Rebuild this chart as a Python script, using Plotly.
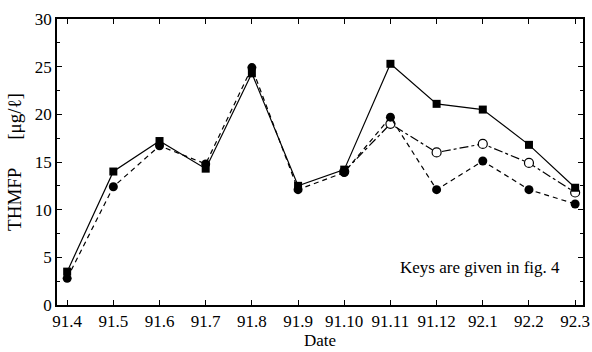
import plotly.graph_objects as go

dates = ["91.4", "91.5", "91.6", "91.7", "91.8", "91.9", "91.10", "91.11",
         "91.12", "92.1", "92.2", "92.3"]
series_square = [3.5, 14.0, 17.2, 14.3, 24.3, 12.5, 14.2, 25.3, 21.1, 20.5, 16.8, 12.3]
series_filled_circle = [2.8, 12.4, 16.7, 14.8, 24.9, 12.1, 13.9, 19.7, 12.1, 15.1, 12.1, 10.6]
dates_open = ["91.10", "91.11", "91.12", "92.1", "92.2", "92.3"]
series_open_circle = [14.0, 19.0, 16.0, 16.9, 14.9, 11.8]

font = "Liberation Serif, Times New Roman, serif"

fig = go.Figure()
fig.add_trace(go.Scatter(
    x=dates_open, y=series_open_circle, mode="lines+markers",
    line=dict(color="black", width=1.2, dash="dashdot"),
    marker=dict(symbol="circle", size=9, color="white", line=dict(color="black", width=1.2)),
))
fig.add_trace(go.Scatter(
    x=dates, y=series_filled_circle, mode="lines+markers",
    line=dict(color="black", width=1.2, dash="5px,4px"),
    marker=dict(symbol="circle", size=9, color="black"),
))
fig.add_trace(go.Scatter(
    x=dates, y=series_square, mode="lines+markers",
    line=dict(color="black", width=1.2),
    marker=dict(symbol="square", size=8, color="black"),
))

fig.update_layout(
    width=592, height=352,
    margin=dict(l=57, r=9, t=19, b=47),
    paper_bgcolor="white", plot_bgcolor="white",
    showlegend=False,
    font=dict(family=font, size=17, color="black"),
)
fig.update_xaxes(
    type="category", categoryorder="array", categoryarray=dates,
    range=[-0.22, 11.17], automargin=False,
    showgrid=False, zeroline=False,
    showline=True, linecolor="black", linewidth=1.5, mirror="allticks",
    ticks="inside", ticklen=5, tickcolor="black",
    tickfont=dict(family=font, size=17),
    title=dict(text="Date", font=dict(family=font, size=17), standoff=4),
)
fig.update_yaxes(
    range=[0, 30], tickvals=[0, 5, 10, 15, 20, 25, 30], automargin=False,
    showgrid=False, zeroline=False,
    showline=True, linecolor="black", linewidth=1.5, mirror="allticks",
    ticks="inside", ticklen=5, tickcolor="black",
    minor=dict(dtick=2.5, tick0=0, ticks="inside", ticklen=3, tickcolor="black", showgrid=False),
    tickfont=dict(family=font, size=17),
    title=dict(text="THMFP　  [μg/ℓ]", font=dict(family=font, size=19), standoff=8),
)
fig.add_annotation(
    text="Keys are given in fig. 4", xref="paper", yref="paper",
    x=0.96, y=0.13, xanchor="right", yanchor="middle", showarrow=False,
    font=dict(family=font, size=17, color="black"),
)
fig.write_html("out.html")
